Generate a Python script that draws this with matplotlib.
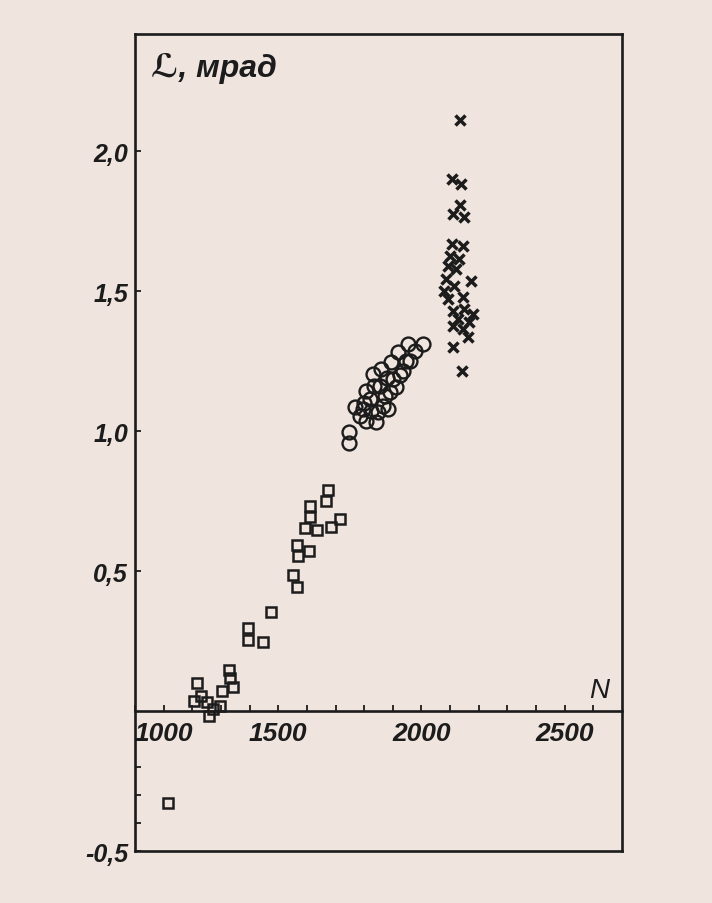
"""plot.py

Scatter of angle L (mrad) against N, three groups of measurements.
"""

import matplotlib

# Use the 'Agg' backend for non-GUI rendering
matplotlib.use("Agg")
# flake8: noqa: E402
import matplotlib.pyplot as plt

# Group 1: open squares
square_n = [1115, 1206, 1218, 1232, 1250, 1259, 1271, 1296, 1304, 1329, 1331,
            1343, 1393, 1393, 1447, 1476, 1552, 1566, 1566, 1569, 1595, 1607,
            1610, 1610, 1637, 1668, 1673, 1685, 1714]
square_l = [-0.33, 0.037, 0.099, 0.054, 0.031, -0.017, 0.007, 0.019, 0.072,
            0.148, 0.117, 0.085, 0.296, 0.254, 0.248, 0.353, 0.487, 0.442,
            0.594, 0.555, 0.654, 0.573, 0.731, 0.692, 0.648, 0.749, 0.789,
            0.658, 0.686]

# Group 2: open circles
circle_n = [1746, 1746, 1767, 1784, 1795, 1800, 1807, 1807, 1819, 1825, 1830,
            1835, 1842, 1848, 1854, 1860, 1865, 1871, 1880, 1883, 1890, 1894,
            1900, 1912, 1917, 1925, 1935, 1947, 1952, 1960, 1976, 2004]
circle_l = [0.995, 0.957, 1.085, 1.055, 1.079, 1.100, 1.035, 1.144, 1.114,
            1.070, 1.204, 1.160, 1.031, 1.067, 1.162, 1.221, 1.090, 1.126,
            1.190, 1.079, 1.140, 1.245, 1.186, 1.156, 1.281, 1.200, 1.215,
            1.251, 1.310, 1.250, 1.287, 1.310]

# Group 3: crosses
cross_n = [2136, 2107, 2138, 2135, 2109, 2150, 2107, 2144, 2098, 2132, 2092,
           2121, 2173, 2086, 2115, 2080, 2144, 2092, 2109, 2150, 2179, 2127,
           2167, 2109, 2144, 2161, 2109, 2140]
cross_l = [2.112, 1.899, 1.881, 1.806, 1.774, 1.766, 1.668, 1.662, 1.626,
           1.614, 1.590, 1.579, 1.537, 1.543, 1.519, 1.501, 1.477, 1.471,
           1.430, 1.436, 1.418, 1.400, 1.388, 1.376, 1.364, 1.335, 1.299,
           1.216]

# Axis ticks and labels
x_major = [1000, 1500, 2000, 2500]
x_labels = ["1000", "1500", "2000", "2500"]
x_minor = list(range(1100, 2700, 100))
y_major = [-0.5, 0.5, 1.0, 1.5, 2.0]
y_labels = ["-0,5", "0,5", "1,0", "1,5", "2,0"]
y_minor = [-0.4, -0.3, -0.2, -0.1]

X_LIM = (1000, 2700)
Y_LIM = (-0.5, 2.418)

PAPER = "#efe4de"
INK = "#1c1c1c"
FONT = ["Liberation Sans", "DejaVu Sans"]

plt.rcParams["font.family"] = FONT
plt.rcParams["font.style"] = "italic"
plt.rcParams["font.weight"] = "bold"

fig = plt.figure(figsize=(7.12, 9.04), dpi=100, facecolor=PAPER)
ax = fig.add_axes([0.1896, 0.0575, 0.684, 0.9038], facecolor=PAPER)
ax.set_xlim(*X_LIM)
ax.set_ylim(*Y_LIM)

for spine in ax.spines.values():
    spine.set_linewidth(1.9)
    spine.set_color(INK)

# Data markers
ax.plot(square_n, square_l, ls="none", marker="s", ms=7.5, mfc="none",
        mec=INK, mew=1.8)
ax.plot(circle_n, circle_l, ls="none", marker="o", ms=10, mfc="none",
        mec=INK, mew=1.7)
ax.plot(cross_n, cross_l, ls="none", marker="x", ms=7, mec=INK, mew=2.5)

# Y axis: labels every 0.5, small ticks below zero, pointing inward
ax.set_yticks(y_major, labels=y_labels)
ax.set_yticks(y_minor, minor=True)
ax.tick_params(axis="y", which="both", direction="in", length=4, width=1.3,
               color=INK, labelsize=18, pad=5, labelcolor=INK)
ax.set_xticks([])

# X axis drawn along L = 0
zero_frac = (0 - Y_LIM[0]) / (Y_LIM[1] - Y_LIM[0])
xaxis0 = ax.secondary_xaxis(zero_frac)
xaxis0.spines["bottom"].set_linewidth(1.9)
xaxis0.spines["bottom"].set_color(INK)
xaxis0.set_xticks(x_major, labels=x_labels)
xaxis0.set_xticks(x_minor, minor=True)
xaxis0.tick_params(which="both", direction="in", length=4, width=1.3,
                   color=INK, labelsize=19, pad=7, labelcolor=INK)
xaxis0.get_xticklabels()[0].set_ha("left")

# Axis titles
ax.text(2620, 0.03, "N", fontsize=20, color=INK, ha="center", va="bottom",
        fontweight="normal")
ax.text(0.033, 0.978, "ℒ, мрад", transform=ax.transAxes, fontsize=23,
        color=INK, ha="left", va="top")

plt.savefig("out.png", dpi=100, facecolor=PAPER)
plt.close()
